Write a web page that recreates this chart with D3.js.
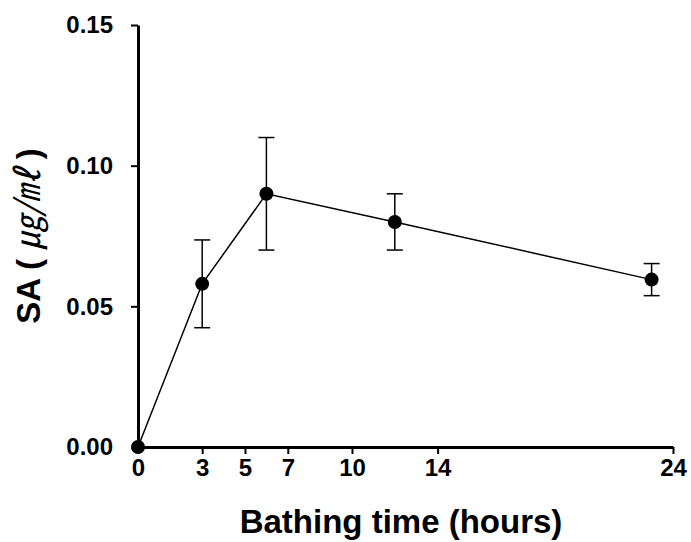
<!DOCTYPE html>
<html>
<head>
<meta charset="utf-8">
<script src="https://cdn.jsdelivr.net/npm/d3@7"></script>
<style>
  html, body { margin: 0; padding: 0; background: #fff; }
  svg { display: block; }
  text { font-family: "Liberation Sans", Arial, sans-serif; font-weight: bold; fill: #000; }
</style>
</head>
<body>
<svg id="chart" width="691" height="542"></svg>
<script>
// Data
const hours = [0, 3, 6, 12, 24];
const saValues = [0.0, 0.058, 0.090, 0.080, 0.0595];
const saErrors = [0.0, 0.0156, 0.020, 0.010, 0.0057];
const xTickValues = [0, 3, 5, 7, 10, 14, 25];
const xTickLabels = ["0", "3", "5", "7", "10", "14", "24"];
const yTickValues = [0.00, 0.05, 0.10, 0.15];
const xTitle = "Bathing time (hours)";
const yTitleMain = "SA ( ";
const yTitleUnit = "㎍/㎖";
const yTitleEnd = " )";

const svg = d3.select("#chart");
const mLeft = 138, mRight = 673, mTop = 25, mBottom = 447;

const x = d3.scaleLinear().domain([0, 25]).range([mLeft, mRight]);
const y = d3.scaleLinear().domain([0, 0.15]).range([mBottom, mTop]);

const data = hours.map((h, i) => ({ h, v: saValues[i], e: saErrors[i] }));

// error bars
const eb = svg.append("g").attr("stroke", "#000").attr("stroke-width", 1.5);
data.filter(d => d.e > 0).forEach(d => {
  eb.append("line").attr("x1", x(d.h)).attr("x2", x(d.h))
    .attr("y1", y(d.v - d.e)).attr("y2", y(d.v + d.e));
  [d.v - d.e, d.v + d.e].forEach(val => {
    eb.append("line").attr("x1", x(d.h) - 8).attr("x2", x(d.h) + 8)
      .attr("y1", y(val)).attr("y2", y(val));
  });
});

// line
svg.append("path").datum(data)
  .attr("fill", "none").attr("stroke", "#000").attr("stroke-width", 1.5)
  .attr("d", d3.line().x(d => x(d.h)).y(d => y(d.v)));

// markers
svg.append("g").selectAll("circle").data(data).join("circle")
  .attr("cx", d => x(d.h)).attr("cy", d => y(d.v)).attr("r", 7).attr("fill", "#000");

// axes
const tickFont = "24px";
const xAxis = d3.axisBottom(x).tickValues(xTickValues)
  .tickFormat((d, i) => xTickLabels[i]).tickSize(7).tickSizeOuter(0).tickPadding(5);
const gx = svg.append("g").attr("transform", `translate(0,${mBottom})`).call(xAxis);
gx.select(".domain").attr("stroke-width", 3);
gx.selectAll(".tick line").attr("stroke-width", 2);
gx.selectAll(".tick text").style("font-size", tickFont).style("font-family", "Liberation Sans, Arial, sans-serif").style("font-weight", "bold").attr("fill", "#000");

const yAxis = d3.axisLeft(y).tickValues(yTickValues)
  .tickFormat(d3.format(".2f")).tickSize(7).tickSizeOuter(0).tickPadding(18);
const gy = svg.append("g").attr("transform", `translate(${mLeft},0)`).call(yAxis);
gy.select(".domain").attr("stroke-width", 3);
gy.selectAll(".tick line").attr("stroke-width", 2);
gy.selectAll(".tick text").style("font-size", tickFont).style("font-family", "Liberation Sans, Arial, sans-serif").style("font-weight", "bold").attr("fill", "#000");

// titles
svg.append("text").attr("x", 401).attr("y", 533)
  .attr("text-anchor", "middle").style("font-size", "33px").text(xTitle);

const yt = svg.append("text").attr("transform", "translate(40,236) rotate(-90)")
  .attr("text-anchor", "middle").style("font-size", "33px");
yt.append("tspan").text(yTitleMain);
yt.append("tspan").style("font-family", "'Noto Sans CJK KR', sans-serif").style("font-weight", "normal").style("font-style", "italic").style("font-size", "34px").text(yTitleUnit);
yt.append("tspan").text(yTitleEnd);
</script>
</body>
</html>
